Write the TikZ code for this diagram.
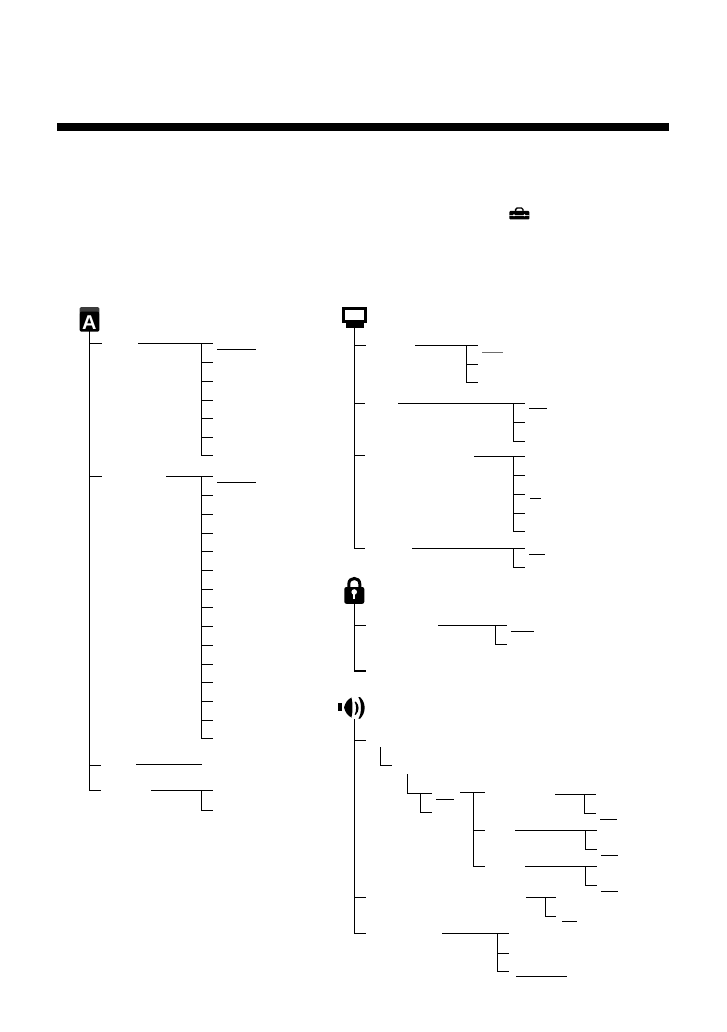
\documentclass[tikz,border=0pt]{standalone}
\usepackage{fontspec}
\setmainfont{Liberation Sans}
\usetikzlibrary{positioning,calc}
\definecolor{ink}{HTML}{000000}
\definecolor{soft}{HTML}{6E6E6E}
\definecolor{band}{HTML}{3C3C3C}
\tikzset{
  wire/.style={draw=ink,line width=1.2pt},
  trunk/.style={wire,line cap=rect},
  softwire/.style={draw=soft,line width=1.2pt},
  icon/.style={fill=ink,inner sep=0pt}
}
\begin{document}
\begin{tikzpicture}[x=1pt,y=-1pt]
\path[use as bounding box,fill=white] (0,0) rectangle (726,1032);
% heading rule
\node[icon,minimum width=612pt,minimum height=7.7pt] (rule) at (363,126.9){};
% toolbox
\node[icon,rounded corners=1pt,minimum width=20pt,minimum height=8.5pt] (box) at (519.3,215.2){};
\draw[ink,line width=1.4pt,rounded corners=1.5pt] (515.6,211.5) -- (515.6,208) -- (523,208) -- (523,211.5);
\draw[soft!40,line width=.4pt] (box.west) -- (box.east);
\fill[white] (514,215.2) circle (1.1pt) (524.5,215.2) circle (1.1pt);
% icons
\fill[band,rounded corners=1.5pt] (79.6,307) rectangle (99.3,314);
\node[icon,rounded corners=2pt,minimum width=19.8pt,minimum height=20pt] (iconA) at (89.5,321.7){};
\node[text=white,inner sep=0pt,font=\bfseries\fontsize{20}{20}\selectfont] (letterA) at (89.4,322.2){A};
\node[draw=ink,fill=white,line width=3pt,inner sep=0pt,minimum width=21.8pt,minimum height=13pt] (screen) at (354.8,315){};
\node[icon,minimum width=18.4pt,minimum height=5pt] (base) at (355.1,325){};
\coordinate (iconB) at (354.3,327.4);
\draw[ink,line width=3pt] (348.8,590) -- (348.8,584) .. controls (348.8,576.6) and (359.8,576.6) .. (359.8,584) -- (359.8,590);
\node[icon,rounded corners=2pt,minimum width=20pt,minimum height=16.7pt] (iconC) at (354.3,595.4){};
\fill[white] (354.2,592) circle (2.8pt);
\fill[white] (353,592) rectangle (355.4,598.8);
\node[icon,minimum width=3.6pt,minimum height=8.3pt] (bar) at (339.8,707.2){};
\fill[ink] (344,707.5) .. controls (345,703) and (348,699) .. (351.5,697.5) .. controls (352.8,703) and (352.8,712) .. (351.5,717.5) .. controls (348,716) and (345,712) .. (344,707.5) -- cycle;
\fill[ink] (354.6,702) .. controls (356.6,704.5) and (356.6,711.5) .. (354.6,714.6) -- (355.8,714.8) .. controls (359.5,711) and (359.5,705) .. (355.8,701.6) -- cycle;
\fill[ink] (358.4,697.2) .. controls (361.8,702) and (361.8,713.5) .. (358.4,718.6) -- (360,718.8) .. controls (366.2,712.5) and (366.2,703) .. (360,697) -- cycle;
\node[inner sep=0pt,minimum width=26pt,minimum height=22pt] (iconD) at (354.6,708.3){};
% trunks
\foreach \n/\x/\y in {ta1/102/343.3,ta2/102/476.3,ta3/101/765.3,ta4/101/790.3}{
  \coordinate (\n) at (\x,\y);
  \draw[wire] (iconA.south |- \n) -- (\n);
}
\draw[trunk] (iconA.south) -- (iconA.south |- ta4);
\foreach \n/\x/\y in {tb1/365.7/345.3,tb2/365/403.3,tb3/365/455.3,tb4/365/548.3}{
  \coordinate (\n) at (\x,\y);
  \draw[wire] (iconB |- \n) -- (\n);
}
\draw[trunk] (iconB) -- (iconB |- tb4);
\foreach \n/\x/\y in {tc1/366/625.3,tc2/366/671}{
  \coordinate (\n) at (\x,\y);
  \draw[wire] (iconC.south |- \n) -- (\n);
}
\draw[trunk] (iconC.south) -- (iconC.south |- tc2);
\foreach \n/\x/\y in {td1/366/740.3,td2/366/897.3,td3/366/933.3}{
  \coordinate (\n) at (\x,\y);
  \draw[wire] (iconD.south |- \n) -- (\n);
}
\draw[trunk] (iconD.south) -- (iconD.south |- td3);
% forks: top, bottom, end of the last tick
\foreach \n/\x/\xe/\ya/\yb in {fa1/201.5/213/343.3/455.3,fa2/201.5/213/476.3/738.3,fa3/201.5/213/790.3/810.3,
  fb1/466.3/477.7/345.3/382.3,fb2/513.3/525/403.3/441.3,fb3/513.3/525/456.3/531.3,fb4/513.3/525/548.3/567.3,
  fc1/495.3/506.7/625.3/644.3,
  fd0/380.3/392/747.3/765.3,fd1/407.3/432/774/793.3,fd2/420.3/432/793.3/812.3,fd3/473.3/485/792.3/866.3,
  fd4/584.3/596/794.3/813.3,fd5/585.7/597.3/830.3/849.3,fd6/585.7/597.3/866.3/885.3,
  fd7/545.3/556/897.3/916.3,fd8/497.3/509/933.3/971.3}{
  \coordinate (\n t) at (\x,\ya);
  \coordinate (\n e) at (\xe,\yb);
  \draw[wire] (\n t) |- (\n e);
}
% ticks between
\foreach \f/\x/\y [count=\i] in {fa1/213/362.3,fa1/213/381.3,fa1/213/400.3,fa1/213/418.3,fa1/213/437.3,
  fa2/213/495.3,fa2/213/514.3,fa2/213/533.3,fa2/213/551.3,fa2/213/570.3,fa2/213/589.3,fa2/213/607.3,
  fa2/213/626.3,fa2/213/645.3,fa2/213/664.3,fa2/213/682.3,fa2/213/701.3,fa2/213/720.3,
  fb1/477.7/364.3,fb2/525/422.3,fb3/525/475.3,fb3/525/494.3,fb3/525/513.3,
  fd3/485/830.3,fd8/509/953.3}{
  \coordinate (tick\i) at (\x,\y);
  \draw[wire] (\f t |- tick\i) -- (tick\i);
}
% rules
\foreach \n/\xa/\xb/\y in {ra1/138/213/343.3,ra2/217/256/349.3,ra3/166/213/476.3,ra4/217/256/482.3,ra5/136/202/764.3,ra6/151/213/790.3,
  rb1/415/477.7/345.3,rb2/398/525/403.3,rb3/529/547/408.3,rb4/474/525/456.3,rb5/530/541/498.3,rb6/412/525/548.3,rb7/529/545/554.3,
  rc1/438/506.7/625.3,rc2/511/533.7/631.3,
  rd1/436/454/799.3,rd2/460/485/792.3,rd3/555/596/794.3,rd4/600/617/819.3,rd5/515/597.3/830.3,rd6/601/618/855.3,
  rd7/525/597.3/866.3,rd8/601/618/891.3,rd9/526/556/897.3,rd10/562/577/921.3,rd11/442/509/933.3,rd12/516/567/976.3}{
  \coordinate (\n l) at (\xa,\y);
  \coordinate (\n r) at (\xb,\y);
  \draw[wire] (\n l) -- (\n r);
}
\coordinate (rb0l) at (482,352.3);
\coordinate (rb0r) at (502.7,352.3);
\draw[softwire] (rb0l) -- (rb0r);
\end{tikzpicture}
\end{document}
